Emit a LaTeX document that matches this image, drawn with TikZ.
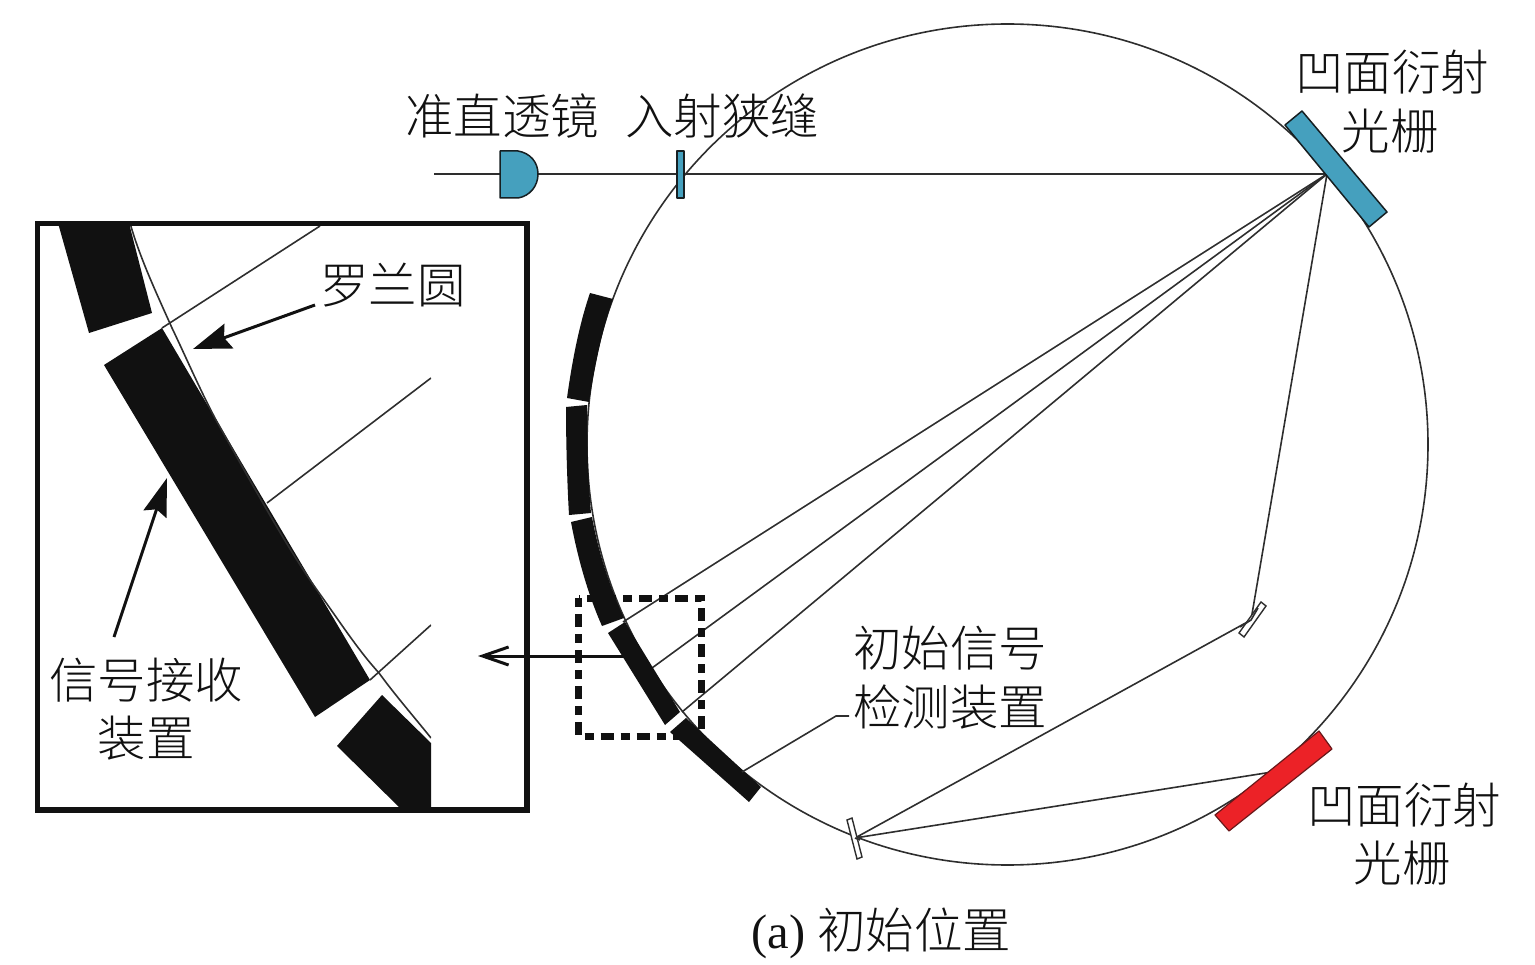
\documentclass[tikz,border=0pt]{standalone}
\usepackage{fontspec}
\usetikzlibrary{arrows.meta}
\setmainfont{Liberation Serif}
\newfontfamily\cjk{Noto Sans CJK SC Light}
\definecolor{ink}{HTML}{111111}
\definecolor{ray}{HTML}{2E2E2E}
\definecolor{blue1}{HTML}{45A0BE}
\definecolor{red1}{HTML}{EC2227}
\tikzset{
  lbl/.style={inner sep=0pt,font=\fontsize{48.5}{48.5}\selectfont\cjk,text=ink},
  lbla/.style={inner sep=0pt,font=\fontsize{48.5}{48.5}\selectfont,text=ink},
  rayline/.style={draw=ray,line width=1.6pt},
  seg/.style={fill=ink,draw=none},
  optic/.style={fill=blue1,draw=ink!90!blue1,line width=1.5pt,line join=round},
  mirror/.style={fill=white,draw=ray,line width=1.4pt},
  arrowline/.style={draw=ink,line width=3pt},
}
\begin{document}
\begin{tikzpicture}[x=1pt,y=-1pt]
\useasboundingbox (0,0) rectangle (1535,965);
% Rowland circle
\coordinate (C) at (1007.5,444.5);
\draw[rayline] (C) circle[radius=420.5];
% optical points
\coordinate (G) at (1327,174);
\coordinate (S) at (434,174);
\coordinate (R1) at (623,622);
\coordinate (R2) at (652,668);
\coordinate (R3) at (682,712);
\coordinate (M1) at (1251,620);
\coordinate (M2) at (855,838);
\coordinate (RG) at (1272,772);
\draw[rayline,line width=2pt] (S) -- (G);
\draw[rayline] (G) -- (R1);
\draw[rayline] (G) -- (R2);
\draw[rayline] (G) -- (R3);
\draw[rayline] (G) -- (M1) -- (M2) -- (RG);
% detector segments
\fill[seg] (590,293) -- (613,299) .. controls (602,330) and (595,365) .. (589,402) -- (567,398) .. controls (572,362) and (579,325) .. (590,293) -- cycle;
\fill[seg] (566,407) -- (587,405) .. controls (587,440) and (588,480) .. (591,513) -- (569,515) .. controls (567,480) and (566,440) .. (566,407) -- cycle;
\fill[seg] (571,522) -- (592,517) .. controls (599,555) and (611,590) .. (624,618) -- (602,626) .. controls (589,597) and (578,560) .. (571,522) -- cycle;
\fill[seg] (608,633) -- (625,622) -- (680,712) -- (665,725) -- cycle;
\fill[seg] (670,732) -- (686,718) -- (761,787) -- (749,802) -- cycle;
% leader
\coordinate (LA) at (742,772);
\coordinate (LB) at (836,716);
\coordinate (LC) at (849,716);
\draw[rayline] (LA) -- (LB) -- (LC);
% optics
\filldraw[optic] (1302,111) -- (1387,212) -- (1369,227) -- (1285,125) -- cycle;
\filldraw[optic] (500,151) -- (518,151) .. controls (530,153) and (538,162) .. (538,174) .. controls (538,186) and (530,196) .. (518,198) -- (500,198) -- cycle;
\filldraw[optic] (677,151) rectangle (684,198);
\filldraw[fill=red1,draw=ink!60!red1,line width=1.2pt,line join=round] (1319,731) -- (1332,749) -- (1229,831) -- (1215,815) -- cycle;
\filldraw[mirror] (1261,602) -- (1266,606) -- (1244,637) -- (1239,633) -- cycle;
\filldraw[mirror] (847,820) -- (852,818) -- (862,857) -- (857,859) -- cycle;
\draw[rayline] (1258,608) -- (M1) -- (1240,627);
\draw[rayline] (M2) -- (860,840);
% dashed zoom box
\draw[ink,line width=7pt,dash pattern=on 9pt off 7pt on 13pt off 7pt] (578.5,598) rectangle (701,736);
% inset
\begin{scope}
\clip (37,223) rectangle (431,810);
\fill[seg] (58,223) -- (129,223) -- (152,313) -- (89,333) -- cycle;
\fill[seg] (162,328) -- (104,365) -- (315,717) -- (370,680) -- cycle;
\fill[seg] (382,695) -- (337,746) -- (402,810) -- (431,810) -- (431,743) -- cycle;
\draw[rayline] (130,223) .. controls (140,258) and (155,290) .. (172,328) .. controls (185,355) and (200,390) .. (216,420) .. controls (250,480) and (285,545) .. (317,590) .. controls (340,622) and (358,650) .. (379,673) .. controls (395,695) and (415,718) .. (431,738);
\coordinate (I1a) at (162,328);
\coordinate (I1b) at (320,226);
\coordinate (I2a) at (267,503);
\coordinate (I2b) at (431,378);
\coordinate (I3a) at (370,680);
\coordinate (I3b) at (431,625);
\draw[rayline] (I1a) -- (I1b);
\draw[rayline] (I2a) -- (I2b);
\draw[rayline] (I3a) -- (I3b);
\end{scope}
\draw[ink,line width=5.5pt] (37.5,223.5) rectangle (527,810);
% labels
\node[lbl] (t1) at (502,116) {准直透镜};
\node[lbl] (t2) at (722,116) {入射狭缝};
\node[lbl] (t3) at (1392,72) {凹面衍射};
\node[lbl] (t4) at (1390,131) {光栅};
\node[lbl] (t5) at (393,285) {罗兰圆};
\node[lbl] (t6) at (146,680) {信号接收};
\node[lbl] (t7) at (146,738) {装置};
\node[lbl] (t8) at (950,648) {初始信号};
\node[lbl] (t9) at (950,707) {检测装置};
\node[lbl] (t10) at (1404,805) {凹面衍射};
\node[lbl] (t11) at (1402,863) {光栅};
\node[lbla] (t12) at (881.5,933) {(a)\hspace{0.25em}{\cjk 初始位置}};
% arrows
\coordinate (A1) at (315,305);
\coordinate (A1t) at (193,349);
\coordinate (A2) at (114,637);
\coordinate (A2t) at (167,478);
\coordinate (A3) at (625,656);
\coordinate (A3t) at (478,656);
\draw[arrowline,-{Stealth[length=38pt,width=26pt,inset=5pt]}] (A1) -- (A1t);
\draw[arrowline,-{Stealth[length=38pt,width=24pt,inset=5pt]}] (A2) -- (A2t);
\draw[arrowline,-{Straight Barb[length=26pt,width=18pt,line width=3pt]}] (A3) -- (A3t);
\end{tikzpicture}
\end{document}
